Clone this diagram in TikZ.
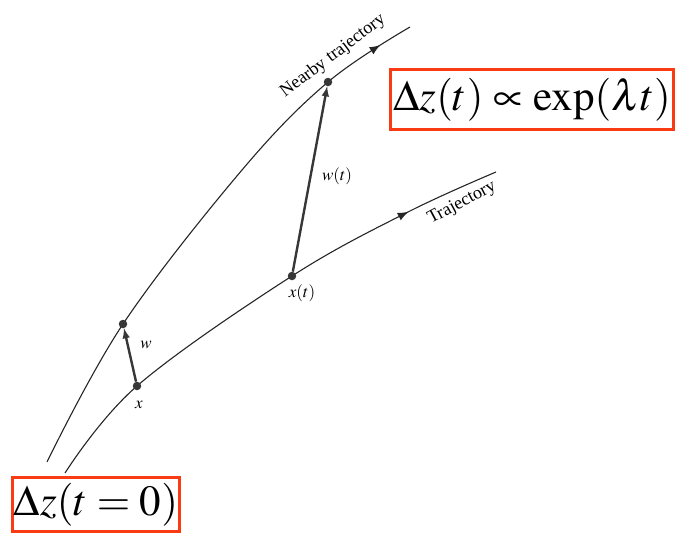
\documentclass[tikz,border=0pt]{standalone}
\usepackage{mathptmx}
\usepackage{fontspec}
\setmainfont{Liberation Serif}
\usepackage{tikz}
\usetikzlibrary{arrows,decorations.markings}
\definecolor{boxred}{RGB}{250,60,20}
\definecolor{vecgray}{RGB}{55,55,55}

\begin{document}
\begin{tikzpicture}[x=1pt,y=-1pt,>=latex,
    traj/.style={line width=1.1pt,black!85},
    arrowat/.style={postaction={decorate},
      decoration={markings,mark=at position #1 with {\arrow[scale=1.8]{latex}}}},
    wvec/.style={->,line width=2.4pt,vecgray},
    dot/.style={circle,fill=vecgray,inner sep=0pt,minimum size=8.5pt},
    lab/.style={font=\fontsize{18}{20}\selectfont},
    mlab/.style={font=\fontsize{17}{19}\selectfont},
    zbox/.style={draw=boxred,line width=3pt,font=\fontsize{43}{47}\selectfont,inner sep=0pt}]
    \useasboundingbox (0,0) rectangle (677,533);

    % Points on the two trajectories
    \coordinate (x0) at (137,386);
    \coordinate (xt) at (292,276);
    \coordinate (w0) at (123,324);
    \coordinate (wt) at (328,82);

    % Nearby trajectory
    \draw[traj,arrowat=0.94] plot[smooth,tension=0.6] coordinates {(47,462) (w0) (242,170) (wt) (410,27)};
    \node[lab,rotate=37] (nearlab) at (333,56) {Nearby trajectory};

    % Trajectory
    \draw[traj,arrowat=0.82] plot[smooth,tension=0.6] coordinates {(65,473) (x0) (xt) (408,212) (496,172)};
    \node[lab,rotate=28] (trajlab) at (462,203) {Trajectory};

    % Separation vectors
    \node[dot] (px0) at (x0) {};
    \node[dot] (pxt) at (xt) {};
    \node[dot] (pw0) at (w0) {};
    \node[dot] (pwt) at (wt) {};
    \draw[wvec] (px0) -- (pw0);
    \draw[wvec] (pxt) -- (pwt);
    \node[mlab] (wlab) at (146,345) {$w$};
    \node[mlab] (xlab) at (139,405) {$x$};
    \node[mlab] (wtlab) at (337,176) {$w(t)$};
    \node[mlab] (xtlab) at (302,293) {$x(t)$};

    % Growth of the separation
    \node[zbox,minimum width=283pt,minimum height=60pt] (growth) at (532,99.5) {$\Delta z(t)\propto\exp(\lambda t)$};
    \node[zbox,minimum width=167pt,minimum height=54pt] (start) at (96,504.5) {$\Delta z(t=0)$};
\end{tikzpicture}
\end{document}
